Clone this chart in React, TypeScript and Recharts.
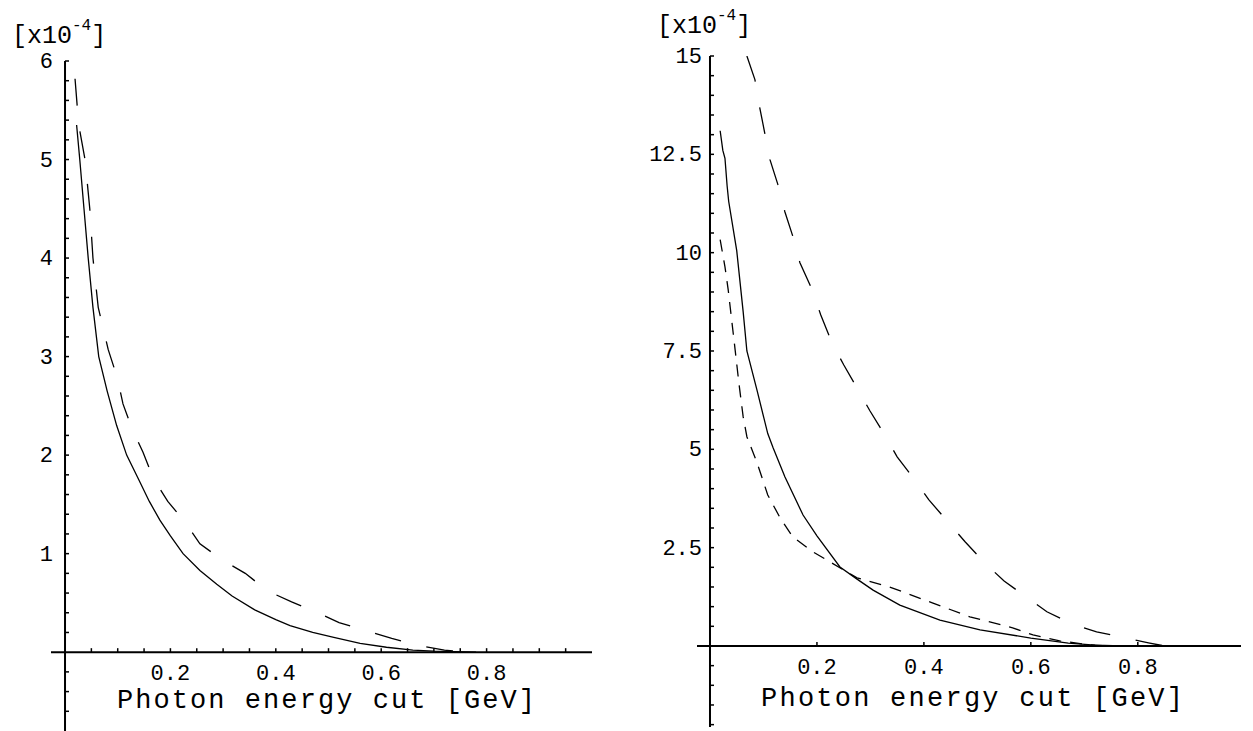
import React from 'react';
import { LineChart, Line, XAxis, YAxis, ReferenceLine, ReferenceDot } from 'recharts';

type P = { x: number; y: number };

// Left panel
const leftSolid: P[] = [
  { x: 0.022, y: 5.35 }, { x: 0.028, y: 5.0 }, { x: 0.036, y: 4.5 }, { x: 0.044, y: 4.0 },
  { x: 0.053, y: 3.5 }, { x: 0.064, y: 3.0 }, { x: 0.08, y: 2.65 }, { x: 0.098, y: 2.3 },
  { x: 0.117, y: 2.0 }, { x: 0.14, y: 1.75 }, { x: 0.16, y: 1.53 }, { x: 0.18, y: 1.34 },
  { x: 0.2, y: 1.18 }, { x: 0.224, y: 1.0 }, { x: 0.256, y: 0.83 }, { x: 0.288, y: 0.69 },
  { x: 0.317, y: 0.57 }, { x: 0.36, y: 0.43 }, { x: 0.4, y: 0.33 }, { x: 0.427, y: 0.27 },
  { x: 0.47, y: 0.2 }, { x: 0.51, y: 0.15 }, { x: 0.56, y: 0.09 }, { x: 0.61, y: 0.05 },
  { x: 0.66, y: 0.02 }, { x: 0.7, y: 0.01 }, { x: 0.78, y: 0 },
];
const leftDashed: P[] = [
  { x: 0.019, y: 5.82 }, { x: 0.026, y: 5.35 }, { x: 0.038, y: 5.0 }, { x: 0.047, y: 4.5 },
  { x: 0.053, y: 4.0 }, { x: 0.063, y: 3.5 }, { x: 0.082, y: 3.07 }, { x: 0.099, y: 2.79 },
  { x: 0.11, y: 2.52 }, { x: 0.127, y: 2.27 }, { x: 0.148, y: 2.03 }, { x: 0.167, y: 1.77 },
  { x: 0.195, y: 1.53 }, { x: 0.228, y: 1.32 }, { x: 0.256, y: 1.1 }, { x: 0.3, y: 0.93 },
  { x: 0.342, y: 0.8 }, { x: 0.385, y: 0.62 }, { x: 0.43, y: 0.51 }, { x: 0.48, y: 0.4 },
  { x: 0.52, y: 0.3 }, { x: 0.57, y: 0.22 }, { x: 0.62, y: 0.14 }, { x: 0.67, y: 0.07 },
  { x: 0.72, y: 0.02 }, { x: 0.76, y: 0 },
];

// Right panel
const rightSolid: P[] = [
  { x: 0.019, y: 13.1 }, { x: 0.024, y: 12.6 }, { x: 0.028, y: 12.4 }, { x: 0.032, y: 11.7 },
  { x: 0.035, y: 11.3 }, { x: 0.05, y: 10.05 }, { x: 0.062, y: 8.5 }, { x: 0.069, y: 7.5 },
  { x: 0.088, y: 6.5 }, { x: 0.108, y: 5.4 }, { x: 0.118, y: 5.04 }, { x: 0.14, y: 4.3 },
  { x: 0.174, y: 3.33 }, { x: 0.2, y: 2.8 }, { x: 0.243, y: 2.01 }, { x: 0.275, y: 1.7 },
  { x: 0.305, y: 1.42 }, { x: 0.355, y: 1.04 }, { x: 0.43, y: 0.66 }, { x: 0.505, y: 0.41 },
  { x: 0.6, y: 0.2 }, { x: 0.67, y: 0.07 }, { x: 0.72, y: 0.02 }, { x: 0.77, y: 0 },
];
const rightShortDash: P[] = [
  { x: 0.019, y: 10.33 }, { x: 0.028, y: 9.64 }, { x: 0.034, y: 9.06 }, { x: 0.039, y: 8.47 },
  { x: 0.047, y: 7.53 }, { x: 0.054, y: 6.69 }, { x: 0.062, y: 5.83 }, { x: 0.069, y: 5.32 },
  { x: 0.088, y: 4.66 }, { x: 0.108, y: 3.84 }, { x: 0.131, y: 3.26 }, { x: 0.155, y: 2.77 },
  { x: 0.193, y: 2.39 }, { x: 0.224, y: 2.14 }, { x: 0.275, y: 1.73 }, { x: 0.336, y: 1.5 },
  { x: 0.417, y: 1.09 }, { x: 0.486, y: 0.74 }, { x: 0.566, y: 0.46 }, { x: 0.604, y: 0.28 },
  { x: 0.654, y: 0.13 }, { x: 0.71, y: 0.03 }, { x: 0.75, y: 0 },
];
const rightLongDash: P[] = [
  { x: 0.069, y: 15.0 }, { x: 0.084, y: 14.4 }, { x: 0.093, y: 13.69 }, { x: 0.103, y: 13.0 },
  { x: 0.112, y: 12.37 }, { x: 0.127, y: 11.73 }, { x: 0.14, y: 11.04 }, { x: 0.155, y: 10.41 },
  { x: 0.168, y: 9.75 }, { x: 0.191, y: 9.06 }, { x: 0.207, y: 8.42 }, { x: 0.228, y: 7.71 },
  { x: 0.25, y: 7.15 }, { x: 0.277, y: 6.51 }, { x: 0.299, y: 5.98 }, { x: 0.323, y: 5.45 },
  { x: 0.35, y: 4.81 }, { x: 0.383, y: 4.22 }, { x: 0.409, y: 3.72 }, { x: 0.477, y: 2.65 },
  { x: 0.514, y: 2.11 }, { x: 0.55, y: 1.65 }, { x: 0.591, y: 1.25 }, { x: 0.63, y: 0.87 },
  { x: 0.682, y: 0.53 }, { x: 0.723, y: 0.36 }, { x: 0.779, y: 0.2 }, { x: 0.82, y: 0.08 },
  { x: 0.85, y: 0 },
];

// Tick labels
const leftXLabels = [0.2, 0.4, 0.6, 0.8];
const leftYLabels = [1, 2, 3, 4, 5, 6];
const rightXLabels = [0.2, 0.4, 0.6, 0.8];
const rightYLabels = [2.5, 5, 7.5, 10, 12.5, 15];
const leftXMinor = Array.from({ length: 19 }, (_, i) => +(0.05 * (i + 1)).toFixed(2));
const leftYMinor = Array.from({ length: 34 }, (_, i) => +(-0.6 + 0.2 * i).toFixed(1)).filter((v) => v !== 0);
const rightYMinor = Array.from({ length: 35 }, (_, i) => -2 + 0.5 * i).filter((v) => v !== 0);

const FONT = '"Liberation Mono", "DejaVu Sans Mono", monospace';
const AX = '#000';

const xTick = (len: number) => (p: any) => (
  <line x1={p.cx} y1={p.cy} x2={p.cx} y2={p.cy - len} stroke={AX} strokeWidth={1.5} />
);
const yTick = (len: number) => (p: any) => (
  <line x1={p.cx} y1={p.cy} x2={p.cx + len} y2={p.cy} stroke={AX} strokeWidth={1.5} />
);
const xLabel = (text: string, dy: number) => (p: any) => (
  <text x={p.cx} y={p.cy + dy} textAnchor="middle" fontFamily={FONT} fontSize={22} fill="#000">{text}</text>
);
const yLabel = (text: string, dx: number) => (p: any) => (
  <text x={p.cx - dx} y={p.cy + 7} textAnchor="end" fontFamily={FONT} fontSize={22} fill="#000">{text}</text>
);

const lineProps = { type: 'linear' as const, dataKey: 'y', stroke: '#000', strokeWidth: 1.3, dot: false, isAnimationActive: false };

function LeftChart() {
  return (
    <LineChart width={600} height={731} margin={{ top: 61, left: 51, right: 8, bottom: 0 }}>
      <XAxis type="number" dataKey="x" domain={[-0.0266, 1.0]} hide allowDataOverflow />
      <YAxis type="number" domain={[-0.8, 6]} hide allowDataOverflow />
      <ReferenceLine y={0} stroke={AX} strokeWidth={2} />
      <ReferenceLine x={0} stroke={AX} strokeWidth={2} />
      {leftXMinor.map((v) => (
        <ReferenceDot key={'lxm' + v} x={v} y={0} r={0} shape={xTick(4)} />
      ))}
      {leftYMinor.map((v) => (
        <ReferenceDot key={'lym' + v} x={0} y={v} r={0} shape={yTick(4)} />
      ))}
      {leftXLabels.map((v) => (
        <ReferenceDot key={'lxl' + v} x={v} y={0} r={0} shape={xLabel(String(v), 28)} />
      ))}
      {leftYLabels.map((v) => (
        <ReferenceDot key={'lyl' + v} x={0} y={v} r={0} shape={yLabel(String(v), 12)} />
      ))}
      <Line {...lineProps} data={leftSolid} />
      <Line {...lineProps} data={leftDashed} strokeDasharray="27 26" />
    </LineChart>
  );
}

function RightChart() {
  return (
    <LineChart width={613} height={731} margin={{ top: 56, left: 57, right: 12, bottom: 4 }}>
      <XAxis type="number" dataKey="x" domain={[-0.0243, 0.993]} hide allowDataOverflow />
      <YAxis type="number" domain={[-2.06, 15]} hide allowDataOverflow />
      <ReferenceLine y={0} stroke={AX} strokeWidth={2} />
      <ReferenceLine x={0} stroke={AX} strokeWidth={2} />
      {rightXLabels.map((v) => (
        <ReferenceDot key={'rxm' + v} x={v} y={0} r={0} shape={xTick(4)} />
      ))}
      {rightYMinor.map((v) => (
        <ReferenceDot key={'rym' + v} x={0} y={v} r={0} shape={yTick(4)} />
      ))}
      {rightXLabels.map((v) => (
        <ReferenceDot key={'rxl' + v} x={v} y={0} r={0} shape={xLabel(String(v), 28)} />
      ))}
      {rightYLabels.map((v) => (
        <ReferenceDot key={'ryl' + v} x={0} y={v} r={0} shape={yLabel(String(v), 8)} />
      ))}
      <Line {...lineProps} data={rightSolid} />
      <Line {...lineProps} data={rightShortDash} strokeDasharray="12 9" />
      <Line {...lineProps} data={rightLongDash} strokeDasharray="27 26" />
    </LineChart>
  );
}

export default function App() {
  return (
    <div style={{ position: 'absolute', left: 0, top: 0, width: 1253, height: 731, background: '#fff', overflow: 'hidden' }}>
      <div style={{ position: 'absolute', left: 0, top: 0 }}>
        <LeftChart />
      </div>
      <div style={{ position: 'absolute', left: 640, top: 0 }}>
        <RightChart />
      </div>
      <svg width={1253} height={731} style={{ position: 'absolute', left: 0, top: 0, pointerEvents: 'none' }}>
        <text x={12} y={43} fontFamily={FONT} fontSize={25} fill="#000">
          [x10<tspan dy={-13} fontSize={16}>-4</tspan><tspan dy={13} fontSize={25}>]</tspan>
        </text>
        <text x={657} y={33} fontFamily={FONT} fontSize={25} fill="#000">
          [x10<tspan dy={-13} fontSize={16}>-4</tspan><tspan dy={13} fontSize={25}>]</tspan>
        </text>
        <text x={117} y={708} fontFamily={FONT} fontSize={27} fill="#000" textLength={418} lengthAdjust="spacing">
          Photon energy cut [GeV]
        </text>
        <text x={761} y={706} fontFamily={FONT} fontSize={27} fill="#000" textLength={422} lengthAdjust="spacing">
          Photon energy cut [GeV]
        </text>
      </svg>
    </div>
  );
}
